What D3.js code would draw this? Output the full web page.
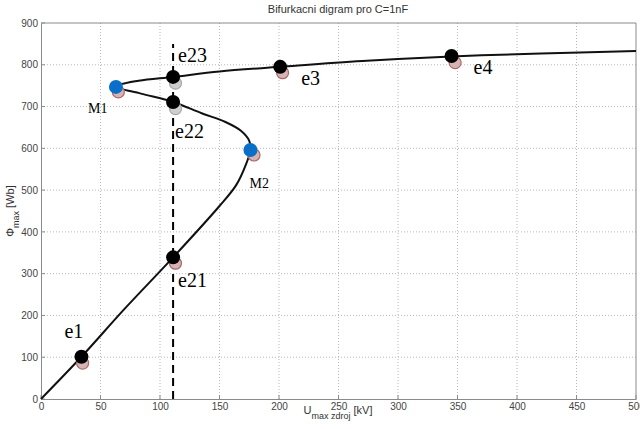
<!DOCTYPE html>
<html>
<head>
<meta charset="utf-8">
<script src="https://cdn.jsdelivr.net/npm/d3@7"></script>
<style>
  body { margin: 0; background: #fff; }
  svg { display: block; }
</style>
</head>
<body>
<div class="chart"></div>
<script>
const W = 640, H = 429;
const margin = {top: 23, left: 41, right: 4, bottom: 30};

// bifurcation curve, ordered along the curve
const curveU   = [0, 34, 70, 111, 150, 164, 172, 176, 175, 168, 155, 135, 111, 84, 63, 82, 111, 150, 201, 270, 345, 420, 500];
const curvePhi = [0, 101, 215, 339, 462, 512, 560, 596, 618, 642, 663, 684, 711, 731, 748, 762, 771, 784, 795, 809, 820, 827, 833];

// equilibrium points
const pointNames = ['e1', 'e21', 'e22', 'e23', 'e3', 'e4'];
const pointU     = [34, 111, 111, 111, 201, 345];
const pointPhi   = [101, 339, 711, 771, 795, 821];
// slightly shifted second set (drawn behind)
const shadowU    = [35, 113, 113, 113, 203, 348];
const shadowPhi  = [86, 325, 695, 756, 781, 805];

// limit points
const limitNames = ['M1', 'M2'];
const limitU     = [63, 176];
const limitPhi   = [747, 596];
const limitShU   = [65, 179];
const limitShPhi = [735, 584];

// source amplitude line
const sourceU = 111;
const sourceTop = 850;

const xTicks = d3.range(0, 501, 50);
const yTicks = d3.range(0, 901, 100);

// label offsets in px
const labelOffset = {
  e1: [-17, -19], e21: [5, 30], e22: [2, 36], e23: [5, -15],
  e3: [21, 18], e4: [22, 18], M1: [-28, 26], M2: [-1, 38]
};

const svg = d3.select('.chart').append('svg')
  .attr('width', W).attr('height', H);

const x = d3.scaleLinear().domain([0, 500]).range([margin.left, W - margin.right]);
const y = d3.scaleLinear().domain([0, 900]).range([H - margin.bottom, margin.top]);

// grid
svg.append('g').selectAll('line').data(xTicks.slice(1, -1)).join('line')
  .attr('x1', d => x(d)).attr('x2', d => x(d))
  .attr('y1', y(0)).attr('y2', y(900))
  .attr('stroke', '#b8b8b8').attr('stroke-dasharray', '1,2');
svg.append('g').selectAll('line').data(yTicks.slice(1, -1)).join('line')
  .attr('y1', d => y(d)).attr('y2', d => y(d))
  .attr('x1', x(0)).attr('x2', x(500))
  .attr('stroke', '#b8b8b8').attr('stroke-dasharray', '1,2');

// axes
const xAxis = d3.axisBottom(x).tickValues(xTicks).tickSize(0).tickPadding(4);
svg.append('g')
  .attr('transform', `translate(0,${y(0)})`)
  .call(xAxis)
  .call(g => g.select('.domain').attr('stroke', '#8a8a8a'))
  .selectAll('text')
  .attr('font-family', 'Liberation Sans, Arial, sans-serif')
  .attr('font-size', 10).attr('fill', '#444');

const yAxis = d3.axisLeft(y).tickValues(yTicks).tickSize(0).tickPadding(3);
svg.append('g')
  .attr('transform', `translate(${x(0)},0)`)
  .call(yAxis)
  .call(g => g.select('.domain').attr('stroke', '#8a8a8a'))
  .selectAll('text')
  .attr('font-family', 'Liberation Sans, Arial, sans-serif')
  .attr('font-size', 10).attr('fill', '#444');

// top and right border
svg.append('path')
  .attr('d', `M${x(0)},${y(900)}H${x(500)}V${y(0)}`)
  .attr('fill', 'none').attr('stroke', '#8a8a8a');

// small inward ticks
svg.append('g').selectAll('line').data(xTicks).join('line')
  .attr('x1', d => x(d)).attr('x2', d => x(d))
  .attr('y1', y(0)).attr('y2', y(0) - 4)
  .attr('stroke', '#8a8a8a');
svg.append('g').selectAll('line').data(yTicks).join('line')
  .attr('y1', d => y(d)).attr('y2', d => y(d))
  .attr('x1', x(0)).attr('x2', x(0) + 4)
  .attr('stroke', '#8a8a8a');

// title
svg.append('text')
  .attr('x', 338).attr('y', 13)
  .attr('text-anchor', 'middle')
  .attr('font-family', 'Liberation Sans, Arial, sans-serif')
  .attr('font-size', 11).attr('fill', '#333')
  .text('Bifurkacni digram pro C=1nF');

// axis labels
const xl = svg.append('text')
  .attr('x', 338).attr('y', 414)
  .attr('text-anchor', 'middle')
  .attr('font-family', 'Liberation Sans, Arial, sans-serif')
  .attr('font-size', 11).attr('fill', '#333');
xl.append('tspan').text('U');
xl.append('tspan').attr('dy', 5).attr('font-size', 9).text('max zdroj');
xl.append('tspan').attr('dy', -5).text(' [kV]');

const yl = svg.append('text')
  .attr('transform', 'translate(14,211) rotate(-90)')
  .attr('text-anchor', 'middle')
  .attr('font-family', 'Liberation Sans, Arial, sans-serif')
  .attr('font-size', 11).attr('fill', '#333');
yl.append('tspan').text('Φ');
yl.append('tspan').attr('dy', 5).attr('font-size', 9).text('max');
yl.append('tspan').attr('dy', -5).text(' [Wb]');

// dashed source line
svg.append('line')
  .attr('x1', x(sourceU)).attr('x2', x(sourceU))
  .attr('y1', y(0)).attr('y2', y(sourceTop))
  .attr('stroke', '#000').attr('stroke-width', 2)
  .attr('stroke-dasharray', '8,5');

// curve
const curveData = curveU.map((u, i) => ({u, phi: curvePhi[i]}));
const line = d3.line()
  .curve(d3.curveCatmullRom.alpha(0.5))
  .x(d => x(d.u)).y(d => y(d.phi));
svg.append('path')
  .datum(curveData)
  .attr('fill', 'none').attr('stroke', '#111').attr('stroke-width', 2)
  .attr('d', line);

// shadow markers
const shadowData = pointNames.map((n, i) => ({n, u: shadowU[i], phi: shadowPhi[i]}))
  .concat(limitNames.map((n, i) => ({n, u: limitShU[i], phi: limitShPhi[i]})));
svg.append('g').selectAll('circle').data(shadowData).join('circle')
  .attr('cx', d => x(d.u)).attr('cy', d => y(d.phi)).attr('r', 6)
  .attr('fill', d => (d.n === 'e22' || d.n === 'e23') ? '#cfcfcf' : '#d6b4b4')
  .attr('stroke', d => (d.n === 'e22' || d.n === 'e23') ? '#a8a8a8' : '#a86a6a')
  .attr('stroke-width', 1.2);

// equilibrium markers
const pts = pointNames.map((n, i) => ({n, u: pointU[i], phi: pointPhi[i]}));
svg.append('g').selectAll('circle').data(pts).join('circle')
  .attr('cx', d => x(d.u)).attr('cy', d => y(d.phi)).attr('r', 7)
  .attr('fill', '#000');

const lims = limitNames.map((n, i) => ({n, u: limitU[i], phi: limitPhi[i]}));
svg.append('g').selectAll('circle').data(lims).join('circle')
  .attr('cx', d => x(d.u)).attr('cy', d => y(d.phi)).attr('r', 7)
  .attr('fill', '#0a6fc8');

// labels
svg.append('g').selectAll('text').data(pts).join('text')
  .attr('x', d => x(d.u) + labelOffset[d.n][0])
  .attr('y', d => y(d.phi) + labelOffset[d.n][1])
  .attr('font-family', 'Liberation Serif, Times New Roman, serif')
  .attr('font-size', 20).attr('fill', '#000')
  .text(d => d.n);

svg.append('g').selectAll('text').data(lims).join('text')
  .attr('x', d => x(d.u) + labelOffset[d.n][0])
  .attr('y', d => y(d.phi) + labelOffset[d.n][1])
  .attr('font-family', 'Liberation Serif, Times New Roman, serif')
  .attr('font-size', 14).attr('fill', '#000')
  .text(d => d.n);
</script>
</body>
</html>
